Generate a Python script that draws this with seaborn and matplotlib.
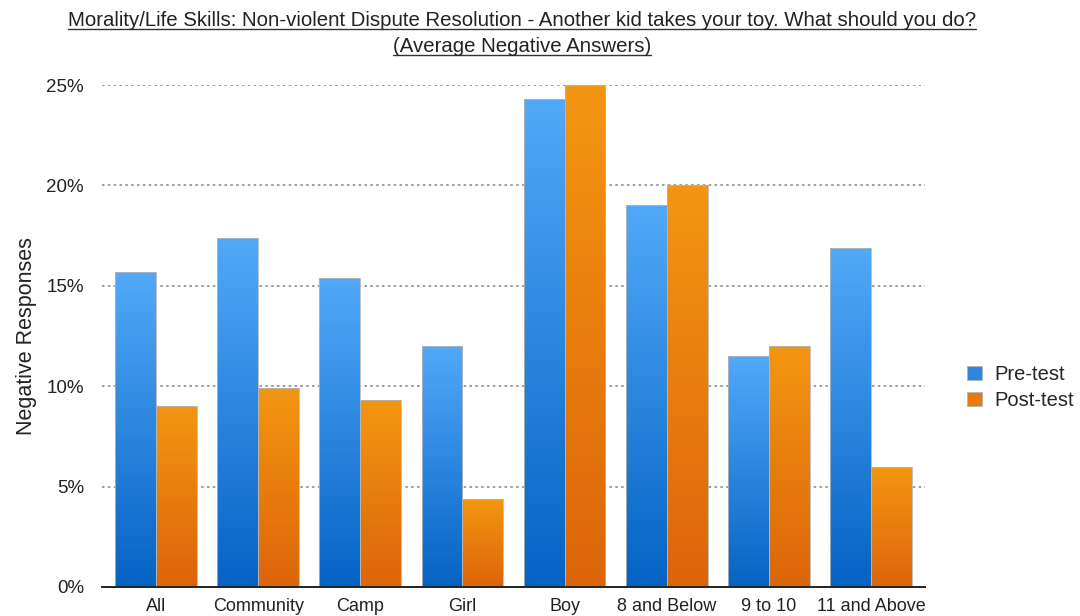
import numpy as np
import pandas as pd
import matplotlib
matplotlib.use("Agg")
import matplotlib.pyplot as plt
from matplotlib.colors import LinearSegmentedColormap
from matplotlib.lines import Line2D
from matplotlib.patches import Patch
from matplotlib.ticker import FuncFormatter
import seaborn as sns

# Survey groups and average share of negative answers (percent)
categories = ["All", "Community", "Camp", "Girl", "Boy", "8 and Below", "9 to 10", "11 and Above"]
pre_test = [15.7, 17.4, 15.4, 12.0, 24.3, 19.0, 11.5, 16.9]
post_test = [9.0, 9.9, 9.3, 4.4, 25.0, 20.0, 12.0, 6.0]
series = ["Pre-test", "Post-test"]
y_ticks = [0, 5, 10, 15, 20, 25]

title_lines = [
    "Morality/Life Skills: Non-violent Dispute Resolution - Another kid takes your toy. What should you do?",
    "(Average Negative Answers)",
]

df = pd.DataFrame({
    "group": categories * 2,
    "test": [series[0]] * len(categories) + [series[1]] * len(categories),
    "value": pre_test + post_test,
})

sns.set_theme(style="white")
plt.rcParams["font.family"] = ["Liberation Sans", "DejaVu Sans"]

# gradient end colours (top, bottom) for each series
grad = {
    "Pre-test": ("#52a9f9", "#0563c4"),
    "Post-test": ("#f39612", "#dc650a"),
}
palette = {k: v[0] for k, v in grad.items()}

fig = plt.figure(figsize=(10.8, 6.16), dpi=100)
ax = fig.add_axes([0.0944, 0.0471, 0.7621, 0.8149])

sns.barplot(data=df, x="group", y="value", hue="test", hue_order=series,
            palette=palette, width=0.8, order=categories, ax=ax,
            edgecolor="#b5b5b5", linewidth=0.6, legend=False, zorder=2)

# vertical light-to-dark gradient inside every bar
for cont, name in zip(ax.containers, series):
    cmap = LinearSegmentedColormap.from_list(name, [grad[name][1], grad[name][0]])
    for bar in cont:
        x0, y0 = bar.get_x(), bar.get_y()
        w, h = bar.get_width(), bar.get_height()
        img = ax.imshow(np.linspace(0, 1, 256).reshape(-1, 1), cmap=cmap,
                        extent=[x0, x0 + w, y0, y0 + h], origin="lower",
                        aspect="auto", zorder=2.5, interpolation="bilinear")
        img.set_clip_path(bar)
        bar.set_facecolor("none")
        bar.set_zorder(3)

ax.set_xlim(-0.53, len(categories) - 0.47)
ax.set_ylim(0, 25)
ax.set_yticks(y_ticks)
ax.yaxis.set_major_formatter(FuncFormatter(lambda v, p: f"{v:.0f}%"))
ax.grid(axis="y", color="#8c8c8c", linestyle=(0, (1.5, 2)), linewidth=1.2, zorder=0)
ax.set_axisbelow(True)
for s in ["top", "right", "left"]:
    ax.spines[s].set_visible(False)
ax.spines["bottom"].set_color("#222222")
ax.spines["bottom"].set_linewidth(1.4)
ax.spines["bottom"].set_zorder(4)
ax.tick_params(axis="y", direction="in", length=5, width=1.4, color="#555555",
               labelsize=13.5, labelcolor="#222222", pad=13)
ax.tick_params(axis="x", length=0, labelsize=13, labelcolor="#222222", pad=8)
ax.set_xlabel("")
ax.set_ylabel("Negative Responses", fontsize=15.5, color="#222222")
ax.yaxis.set_label_coords(-0.079, 0.5)

# legend swatches drawn in the middle tone of each gradient
handles = [Patch(facecolor="#2f86de", edgecolor="#b5b5b5", linewidth=0.6),
           Patch(facecolor="#e97b0c", edgecolor="#b5b5b5", linewidth=0.6)]
fig.legend(handles, series, loc="center left", bbox_to_anchor=(0.888, 0.371),
           frameon=False, fontsize=14.5, handlelength=0.75, handleheight=0.75,
           handletextpad=0.6, labelspacing=0.35, borderaxespad=0)

# underlined two-line title
title_y = [0.966, 0.924]
texts = [fig.text(0.483, y, t, ha="center", va="center", fontsize=14.7,
                  color="#222222") for t, y in zip(title_lines, title_y)]
fig.canvas.draw()
r = fig.canvas.get_renderer()
inv = fig.transFigure.inverted()
for t in texts:
    bb = t.get_window_extent(renderer=r)
    (xa, ya), (xb, yb) = inv.transform([(bb.x0, bb.y0 + 1.5), (bb.x1, bb.y0 + 1.5)])
    fig.add_artist(Line2D([xa, xb], [ya, yb], transform=fig.transFigure,
                          color="#333333", linewidth=1.0))

fig.savefig("out.png", dpi=100)
